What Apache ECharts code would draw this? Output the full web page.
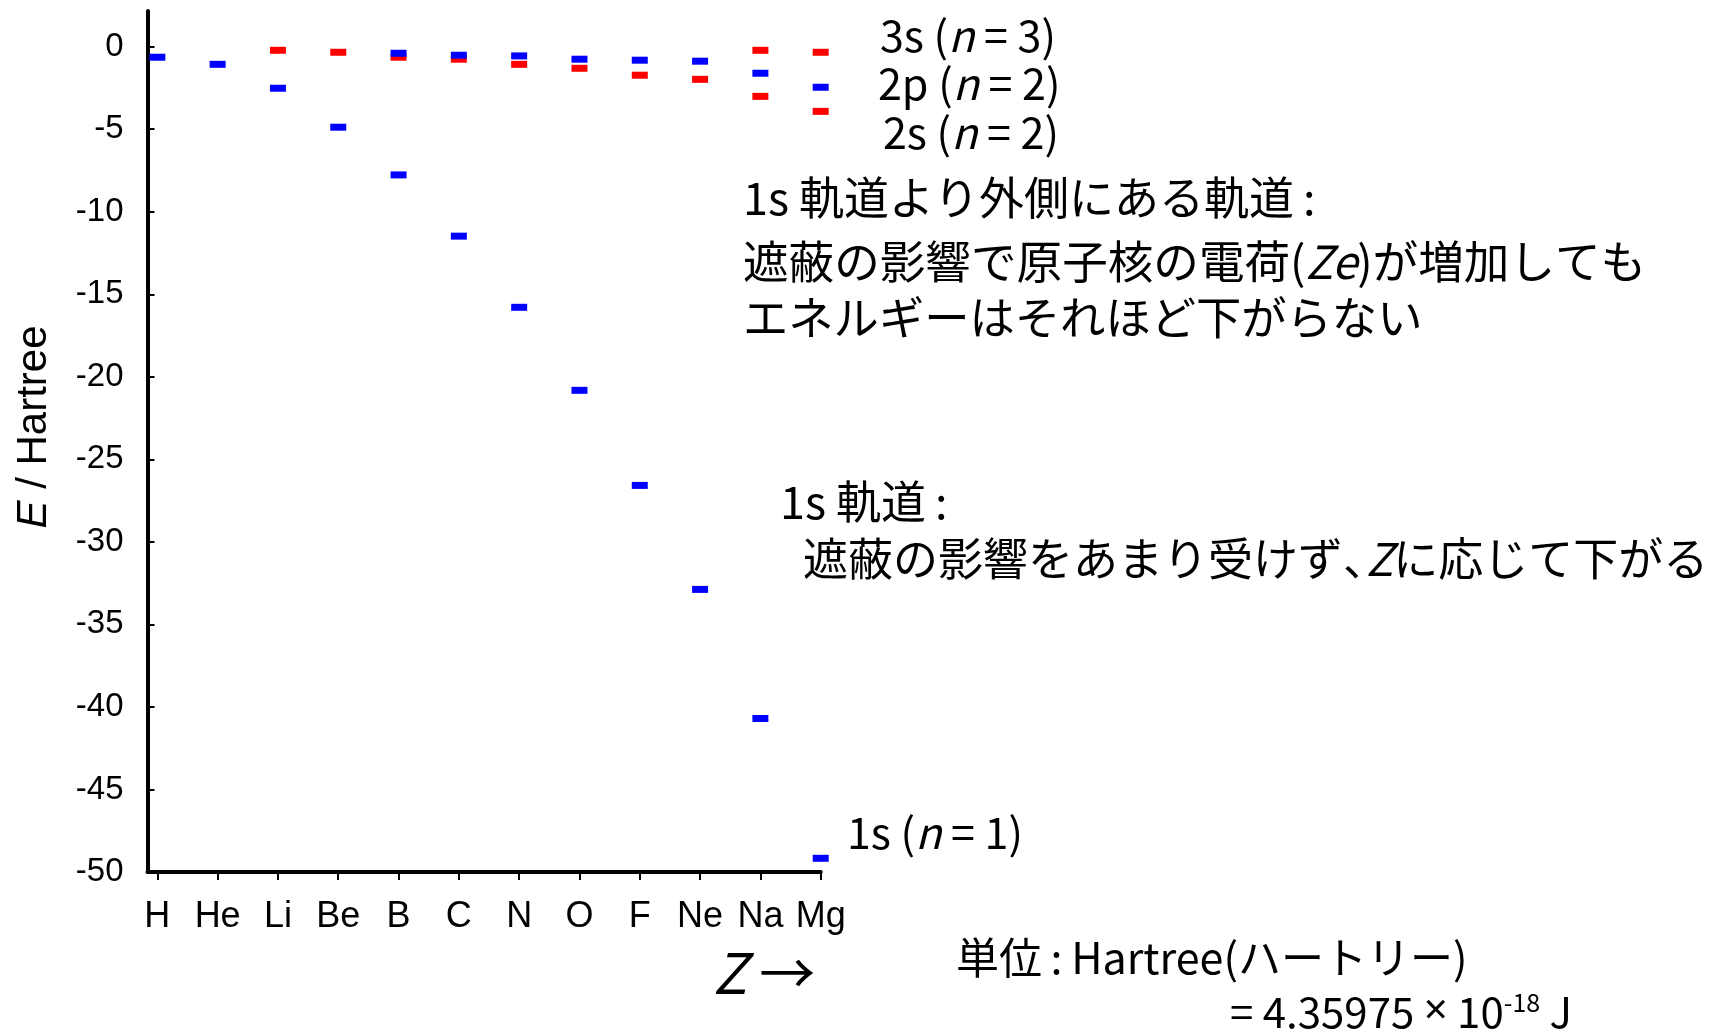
<!DOCTYPE html>
<html>
<head>
<meta charset="utf-8">
<script src="https://cdn.jsdelivr.net/npm/echarts@6/dist/echarts.min.js"></script>
<style>
html,body{margin:0;padding:0;background:#fff;}
#chart{width:1714px;height:1031px;}
</style>
</head>
<body>
<div id="chart"></div>
<script>
// Categories (elements, Z = 1..12)
const elements = ['H','He','Li','Be','B','C','N','O','F','Ne','Na','Mg'];
const zValues = [1,2,3,4,5,6,7,8,9,10,11,12];
// Orbital energies (Hartree)
const e1s = [-0.64,-1.07,-2.52,-4.88,-7.77,-11.48,-15.79,-20.82,-26.58,-32.88,-40.70,-49.17];
const e2s = [null,null,-0.22,-0.34,-0.64,-0.76,-1.07,-1.31,-1.73,-1.98,-3.01,-3.92];
const e2p = [null,null,null,null,-0.40,-0.52,-0.56,-0.76,-0.82,-0.88,-1.61,-2.46];
const e3s = [null,null,null,null,null,null,null,null,null,null,-0.22,-0.34];
// Tick labels
const yTicks = [0,-5,-10,-15,-20,-25,-30,-35,-40,-45,-50];

function pairs(arr){
  const out = [];
  arr.forEach((v,i)=>{ if(v!==null) out.push([zValues[i], v]); });
  return out;
}

const JP = '"Noto Sans CJK JP", sans-serif';
const AR = '"Liberation Sans", Arial, sans-serif';
const BLUE = '#0000ff', RED = '#ff0000';

function scatter(name, arr, color){
  return {
    name, type:'scatter', data: pairs(arr),
    symbol:'rect', symbolSize:[16,7],
    itemStyle:{color:color, opacity:1},
    emphasis:{disabled:true}, animation:false
  };
}

function txt(x, y, text, size, extra){
  return Object.assign({
    type:'text', x:x, y:y, silent:true,
    style:{
      text:text, fontFamily:JP, fontSize:size, fill:'#000',
      verticalAlign:'middle', align:'left',
      rich:{
        i:{fontFamily:JP, fontSize:size, fontStyle:'italic', fill:'#000'},
        c:{fontFamily:JP, fontSize:size, fill:'#000', width:Math.round(size*0.5)},
        x:{fontFamily:'"Noto Sans", sans-serif', fontSize:size, fill:'#000'},
        sup:{fontFamily:JP, fontSize:Math.round(size*0.6), fill:'#000', padding:[0,0,Math.round(size*0.45),0]}
      }
    }
  }, extra||{});
}

const chart = echarts.init(document.getElementById('chart'), null, {renderer:'canvas'});
chart.setOption({
  backgroundColor:'#fff',
  animation:false,
  grid:{left:147.5, right:893.3, top:11, bottom:159},
  xAxis:{
    type:'value', min:0.837, max:12,
    splitLine:{show:false},
    axisLine:{show:true, onZero:false, lineStyle:{color:'#000', width:4}},
    axisTick:{show:true, inside:false, length:8, lineStyle:{color:'#000', width:2}, customValues:zValues},
    axisLabel:{show:true, customValues:zValues, formatter:(v)=>elements[Math.round(v)-1],
      fontFamily:AR, fontSize:36, color:'#000', margin:27}
  },
  yAxis:{
    type:'value', min:-50, max:2.16,
    splitLine:{show:false},
    axisLine:{show:true, onZero:false, lineStyle:{color:'#000', width:4}},
    axisTick:{show:true, inside:true, length:7, lineStyle:{color:'#000', width:2}, customValues:yTicks},
    axisLabel:{show:true, customValues:yTicks, fontFamily:AR, fontSize:33, color:'#000', margin:24}
  },
  series:[
    scatter('2s', e2s, RED),
    scatter('3s', e3s, RED),
    scatter('1s', e1s, BLUE),
    scatter('2p', e2p, BLUE)
  ],
  graphic:[
    txt(880, 36, '3s ({i|n} = 3)', 43),
    txt(878, 84, '2p ({i|n} = 2)', 43),
    txt(883, 133, '2s ({i|n} = 2)', 43),
    txt(743, 198, '1s 軌道より外側にある軌道\u2009:', 45),
    txt(743, 262, '遮蔽の影響で原子核の電荷({i|Ze})が増加しても', 45.6),
    txt(743, 318, 'エネルギーはそれほど下がらない', 45.3),
    txt(780, 502, '1s 軌道\u2009:', 45),
    txt(803, 559, '遮蔽の影響をあまり受けず{c|、}{i|Z}に応じて下がる', 45),
    txt(847, 833, '1s ({i|n} = 1)', 43),
    txt(956, 958, '単位\u2009:\u2009Hartree(ハートリー)', 43),
    txt(1230, 1012, '= 4.35975 {x|×} 10{sup|-18} J', 42),
    txt(713, 973, '{i|Z} →', 56),
    {
      type:'text', x:34, y:427, rotation:Math.PI/2, silent:true,
      style:{
        text:'{i|E} / Hartree', fontFamily:AR, fontSize:42, fill:'#000',
        align:'center', verticalAlign:'middle',
        rich:{i:{fontFamily:AR, fontSize:42, fontStyle:'italic', fill:'#000'}}
      }
    }
  ]
});
</script>
</body>
</html>
